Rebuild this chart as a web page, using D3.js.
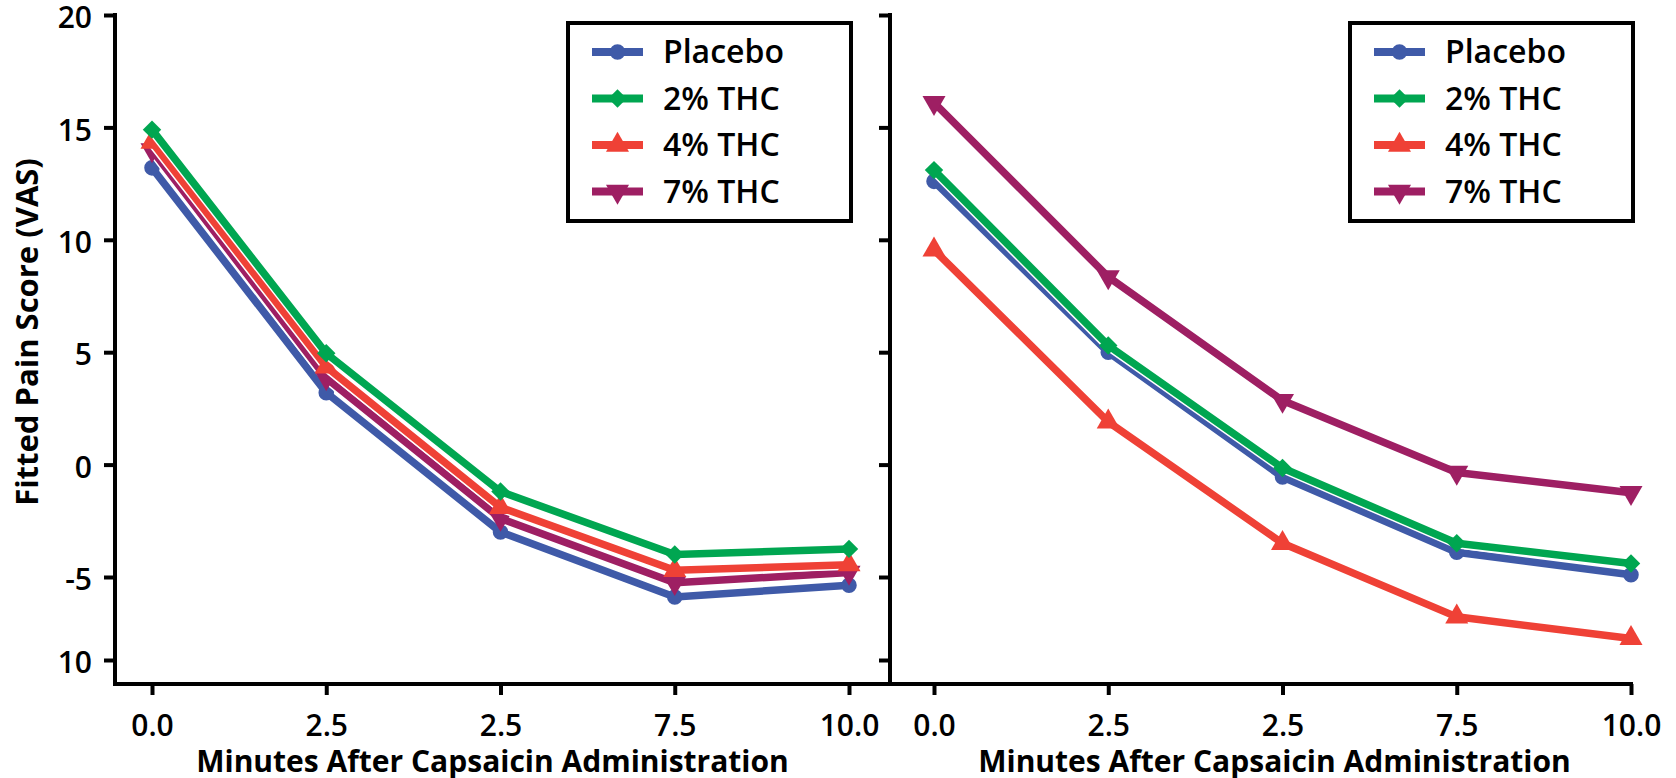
<!DOCTYPE html>
<html>
<head>
    <title>Fitted Pain Score</title>
    <script src="https://cdn.jsdelivr.net/npm/d3@7"></script>
    <meta charset="utf-8" />
    <style>
        body { margin: 0; background: #fff; }
        text { font-family: "Open Sans", sans-serif; fill: #000; }
    </style>
</head>
<body>
    <script>
        var xLabels = ["0.0", "2.5", "2.5", "7.5", "10.0"];
        var yTicks = [20, 15, 10, 5, 0, -5, -10];
        var yTickLabels = ["20", "15", "10", "5", "0", "-5", "10"];
        var seriesNames = ["Placebo", "2% THC", "4% THC", "7% THC"];

        // left panel
        var leftPlacebo = [13.2, 3.2, -3.0, -6.2, -5.5];
        var left2 = [14.9, 4.95, -1.2, -4.0, -3.75];
        var left4 = [14.35, 4.35, -1.9, -4.7, -4.45];
        var left7 = [14.0, 3.85, -2.4, -5.35, -4.8];

        // right panel
        var rightPlacebo = [12.6, 5.0, -0.55, -3.9, -4.9];
        var right2 = [13.1, 5.3, -0.15, -3.5, -4.4];
        var right4 = [9.55, 1.9, -3.5, -7.4, -8.7];
        var right7 = [16.1, 8.35, 2.85, -0.35, -1.25];

        var width = 1676;
        var height = 778;
        var axisY = 684;
        var lineWidth = 7.5;

        var colors = ["#3f5aa8", "#00a651", "#ef4136", "#9e1f63"];
        var symbols = [
            d3.symbol().type(d3.symbolCircle).size(190),
            d3.symbol().type(d3.symbolSquare).size(170),
            d3.symbol().type(d3.symbolTriangle).size(230),
            d3.symbol().type(d3.symbolTriangle).size(230)
        ];
        var rotations = [0, 45, 0, 180];

        var svg = d3.select("body")
            .append("svg")
            .attr("width", width)
            .attr("height", height);

        var y = d3.scaleLinear()
            .domain([20, -5, -10])
            .range([15, 577, 660]);

        var panels = [
            { x: d3.scaleLinear().domain([0, 4]).range([152, 849]), axisX: 115, axisEnd: 889, labels: true,
              data: [leftPlacebo, left2, left4, left7], legendX: 568 },
            { x: d3.scaleLinear().domain([0, 4]).range([934, 1631]), axisX: 890, axisEnd: 1633, labels: false,
              data: [rightPlacebo, right2, right4, right7], legendX: 1350 }
        ];

        var drawOrder = [0, 3, 2, 1];

        panels.forEach(function (p) {
            var g = svg.append("g");

            // y axis
            var yAxis = d3.axisLeft(y)
                .tickValues(yTicks)
                .tickSize(11)
                .tickSizeOuter(0)
                .tickFormat(function (d, i) { return p.labels ? yTickLabels[i] : ""; });

            var ya = g.append("g")
                .attr("transform", "translate(" + p.axisX + ",0)")
                .call(yAxis);
            ya.select(".domain").remove();
            ya.selectAll(".tick line").attr("stroke", "#000").attr("stroke-width", 4);
            ya.selectAll(".tick text")
                .attr("x", -23)
                .attr("dy", "0.42em")
                .style("font-size", "30px")
                .style("font-weight", 600)
                .style("font-family", "'Open Sans', sans-serif");

            g.append("line")
                .attr("x1", p.axisX).attr("x2", p.axisX)
                .attr("y1", y(20) - 2).attr("y2", axisY + 2)
                .attr("stroke", "#000").attr("stroke-width", 4);

            // x axis
            var xAxis = d3.axisBottom(p.x)
                .tickValues(d3.range(xLabels.length))
                .tickSize(11)
                .tickSizeOuter(0)
                .tickFormat(function (d) { return xLabels[d]; });

            var xa = g.append("g")
                .attr("transform", "translate(0," + axisY + ")")
                .call(xAxis);
            xa.select(".domain").remove();
            xa.selectAll(".tick line").attr("stroke", "#000").attr("stroke-width", 4);
            xa.selectAll(".tick text")
                .attr("y", 52)
                .attr("dy", 0)
                .style("font-size", "30px")
                .style("font-weight", 600)
                .style("font-family", "'Open Sans', sans-serif");

            g.append("line")
                .attr("x1", p.axisX - 2).attr("x2", p.axisEnd)
                .attr("y1", axisY).attr("y2", axisY)
                .attr("stroke", "#000").attr("stroke-width", 4);

            // series
            var line = d3.line()
                .x(function (d, i) { return p.x(i); })
                .y(function (d) { return y(d); });

            drawOrder.forEach(function (s) {
                var values = p.data[s];
                g.append("path")
                    .attr("d", line(values))
                    .attr("fill", "none")
                    .attr("stroke", "#fff")
                    .attr("stroke-width", lineWidth + 3)
                    .attr("stroke-linejoin", "round");
                g.append("path")
                    .attr("d", line(values))
                    .attr("fill", "none")
                    .attr("stroke", colors[s])
                    .attr("stroke-width", lineWidth)
                    .attr("stroke-linejoin", "round");
                g.selectAll(".m" + s)
                    .data(values).enter()
                    .append("path")
                    .attr("d", symbols[s])
                    .attr("fill", colors[s])
                    .attr("transform", function (d, i) {
                        return "translate(" + p.x(i) + "," + y(d) + ") rotate(" + rotations[s] + ")";
                    });
            });

            // x title
            g.append("text")
                .attr("x", (p.x(0) + p.x(4)) / 2 - 8)
                .attr("y", 772)
                .attr("text-anchor", "middle")
                .style("font-size", "30px")
                .style("font-weight", 700)
                .text("Minutes After Capsaicin Administration");

            // legend
            var lg = g.append("g")
                .attr("transform", "translate(" + p.legendX + ",23)");

            lg.append("rect")
                .attr("width", 283)
                .attr("height", 198)
                .attr("fill", "#fff")
                .attr("stroke", "#000")
                .attr("stroke-width", 4);

            var item = lg.selectAll(".legend")
                .data(seriesNames).enter()
                .append("g")
                .attr("class", "legend")
                .attr("transform", function (d, i) { return "translate(0," + (29 + i * 46.5) + ")"; });

            item.append("line")
                .attr("x1", 24).attr("x2", 75)
                .attr("stroke", function (d, i) { return colors[i]; })
                .attr("stroke-width", 8);

            item.append("path")
                .attr("d", function (d, i) { return symbols[i](); })
                .attr("fill", function (d, i) { return colors[i]; })
                .attr("transform", function (d, i) { return "translate(49.5,0) rotate(" + rotations[i] + ")"; });

            item.append("text")
                .attr("x", 95)
                .attr("y", 11)
                .style("font-size", "32px")
                .style("font-weight", 600)
                .text(function (d) { return d; });
        });

        svg.append("text")
            .attr("transform", "translate(38,332) rotate(-90)")
            .attr("text-anchor", "middle")
            .style("font-size", "31px")
            .style("font-weight", 700)
            .text("Fitted Pain Score (VAS)");
    </script>
</body>
</html>
